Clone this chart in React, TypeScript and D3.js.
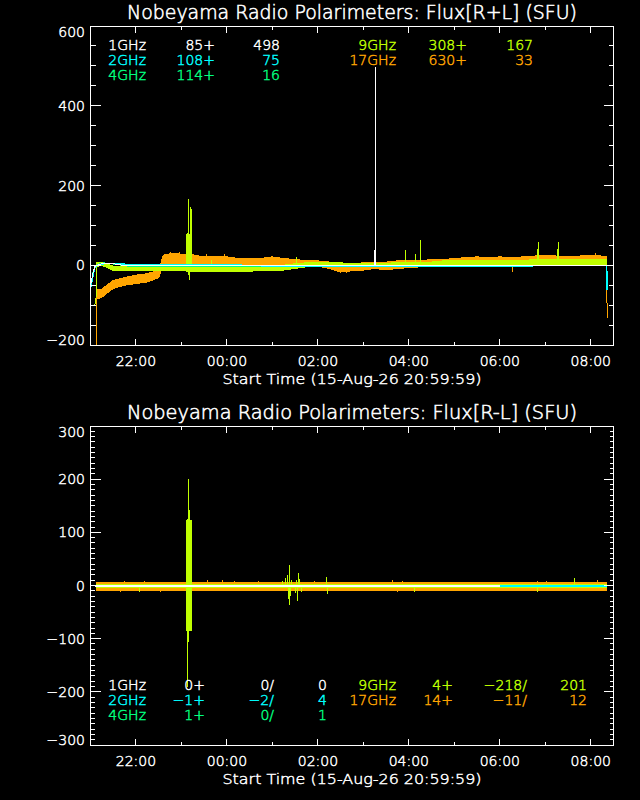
import React from "react";
import * as d3 from "d3";

type Pt = [number, number];

// ---------- time frame ----------
const START = new Date(2026, 7, 15, 20, 59, 59);
const END = new Date(2026, 7, 16, 8, 29, 59);

// ---------- colours ----------
const C1 = "#ffffff";
const C2 = "#00ffff";
const C4 = "#00ff80";
const C9 = "#c0ff00";
const C17 = "#ffa500";

// ---------- common sample grid (hours after start) ----------
const gridH = [0.13, 0.25, 0.5, 0.75, 1.0, 1.25, 1.5, 1.6, 1.75, 2.0, 2.25, 2.5, 2.75, 3.0, 3.25, 3.5, 3.75, 4.0, 4.25, 4.5, 4.75, 5.0, 5.25, 5.5, 5.75, 6.0, 6.25, 6.5, 6.75, 7.0, 7.25, 7.5, 7.75, 8.0, 8.25, 8.5, 8.75, 9.0, 9.25, 9.5, 9.75, 10.0, 10.25, 10.5, 10.75, 11.0, 11.25, 11.35];

// ---------- R+L (top) ----------
const rl17Lo = [-85, -80, -58, -50, -46, -42, -31, 0, 3, 0, 0, 0, 0, -1, -2, -2, 0, 0, 0, 0, 0, -2, -8, -17, -14, -12, -8, -12, -8, -6, -4, 0, 0, 2, 4, 4, 4, 4, 2, 4, 4, 4, 4, 4, 4, 6, 4, 4];
const rl17Hi = [-62, -60, -38, -31, -25, -21, -13, 25, 29, 28, 26, 21, 22, 21, 17, 17, 17, 21, 17, 14, 12, 11, 8, 4, 4, 6, 8, 8, 11, 11, 12, 14, 14, 17, 19, 21, 19, 21, 19, 21, 23, 25, 23, 21, 23, 25, 23, 23];
const rl17Lead: Pt[] = [[0.125, -420], [0.13, -75]];
const rl17Tail: Pt[] = [[11.35, 10], [11.36, -132]];
const rl17Spikes: Pt[] = [[1.75, 33], [1.95, 33], [2.55, 28], [2.95, 28], [5.63, -20], [9.29, -16], [11.1, 30]];

const rl9Lo = [-4, 0, -13, -13, -13, -13, -14, -14, -14, -14, -15, -15, -15, -15, -15, -15, -13, -13, -12, -8, -4, -4, -4, -4, -4, -4, -4, -4, -2, -2, -2, -2, 0, 0, 0, 0, 0, 0, 0, 0, 2, 2, 2, 2, 2, 2, 2, 2];
const rl9Hi = [6, 8, -2, -2, -2, -2, -4, -4, -4, -4, -3, -3, -3, -3, -3, -3, -3, -3, 0, 4, 6, 6, 6, 6, 4, 4, 4, 4, 8, 8, 8, 8, 11, 11, 11, 11, 12, 12, 12, 12, 14, 14, 14, 14, 14, 14, 14, 14];
const rl9Lead: Pt[] = [[0.083, -100], [0.12, -95], [0.125, -40], [0.132, -40], [0.136, 2]];
const rl9Spikes: Pt[] = [[2.11, 78], [2.12, 78], [2.13, 80], [2.14, 78], [2.15, 165], [2.16, 78], [2.17, 76], [2.18, 78], [2.19, 146], [2.2, 78], [2.21, 140], [2.22, 60], [2.23, 20], [2.15, -25], [2.17, -38], [2.66, 14], [4.52, 21], [6.92, 37], [7.14, 27], [7.25, 63], [9.83, 40], [9.84, 58], [10.27, 40], [10.28, 58]];

const rl4Line: Pt[] = [[0.05, -20], [0.1, -5], [0.15, 2], [0.3, 6], [0.5, 3], [0.8, -2], [1.5, -3], [3.0, -3], [5.0, -2], [7.0, -1], [9.0, 0], [11.35, 0]];
const rl2Line: Pt[] = [[0.0, -58], [0.03, -40], [0.07, -18], [0.1, -5], [0.15, 0], [0.25, 3], [0.4, 5], [0.6, 4], [0.8, 2], [1.2, 2], [2.0, 2], [3.0, 1], [4.0, -2], [5.0, -3], [6.0, -3], [7.0, -3], [8.0, -3], [9.0, -2], [10.0, -1], [11.0, -1], [11.35, -1], [11.36, -63]];
const rl1Line: Pt[] = [[0.0, -50], [0.03, -33], [0.07, -13], [0.1, -3], [0.15, 0], [0.25, 4], [0.4, 5], [0.55, 3], [0.7, 0], [1.0, -1], [3.5, -1], [6.2, -1], [9.0, -1], [11.35, -1]];
const rl1Spikes: Pt[] = [[6.24, 38], [6.26, 498], [6.27, 159]];

// ---------- R-L (bottom) ----------
const lr17Lo = [-10, -9, -9, -9, -10, -9, -9, -9, -9, -9, -9, -9, -9, -9, -9, -9, -9, -9, -9, -9, -9, -9, -9, -9, -9, -9, -9, -9, -9, -9, -9, -9, -9, -9, -9, -9, -9, -9, -9, -9, -9, -9, -9, -9, -9, -9, -9, -9];
const lr17Hi = [5, 5, 5, 6, 5, 5, 5, 5, 5, 5, 5, 6, 5, 5, 5, 5, 5, 5, 5, 5, 5, 5, 5, 5, 5, 5, 5, 6, 5, 5, 5, 5, 5, 5, 5, 5, 6, 5, 5, 5, 5, 5, 5, 5, 5, 6, 5, 5];
const lr17Spikes: Pt[] = [[0.65, -13], [0.75, 9], [1.19, 9], [1.55, -12], [2.57, 10], [2.9, 10], [3.16, 9], [3.49, -11], [3.69, 9], [4.93, 9], [6.63, 10], [6.74, -13], [6.85, 9], [8.3, -11], [9.83, 9], [10.03, 9], [10.32, -10], [11.14, 11]];

const lr9Lo = [-3, -3, -3, -3, -3, -3, -3, -3, -3, -3, -3, -3, -3, -3, -3, -3, -3, -3, -3, -3, -3, -3, -3, -3, -3, -3, -3, -3, -3, -3, -3, -3, -3, -3, -3, -3, -3, -3, -3, -3, -3, -3, -3, -3, -3, -3, -3, -3];
const lr9Hi = [2, 2, 2, 2, 2, 2, 2, 2, 2, 2, 2, 2, 2, 2, 2, 2, 2, 2, 2, 2, 2, 2, 2, 2, 2, 2, 2, 2, 2, 2, 2, 2, 2, 2, 2, 2, 2, 2, 2, 2, 2, 2, 2, 2, 2, 2, 2, 2];
const lr9Spikes: Pt[] = [[1.07, -13], [2.11, 123], [2.12, 123], [2.13, 123], [2.14, 125], [2.15, 142], [2.16, 200], [2.17, 142], [2.18, 123], [2.19, 123], [2.2, 123], [2.21, 123], [2.22, 27], [2.23, 27], [2.11, -86], [2.12, -86], [2.13, -86], [2.14, -190], [2.15, -107], [2.16, -107], [2.17, -86], [2.18, -86], [2.19, -86], [2.2, -86], [2.21, -86], [4.22, 8], [4.28, 15], [4.33, 20], [4.35, -25], [4.37, 38], [4.38, -37], [4.4, -20], [4.42, 10], [4.5, -15], [4.53, 10], [4.55, -30], [4.57, 23], [4.6, 12], [4.63, -12], [5.2, 16], [5.21, -16], [7.13, -13], [9.82, -13], [10.65, 15]];
const lr4Line: Pt[] = [[0.1, 0], [11.35, 0]];
const lr2Line: Pt[] = [[0.1, 0], [11.35, 0]];
const lr1Line: Pt[] = [[0.1, 0], [9.0, 0]];

// ---------- legend text ----------
const freqLabels = ["1GHz", "2GHz", "4GHz", "9GHz", "17GHz"];
const freqColors = [C1, C2, C4, C9, C17];
const topBase = ["85+", "108+", "114+", "308+", "630+"];
const topMax = ["498", "75", "16", "167", "33"];
const botBase = ["0+", "\u22121+", "1+", "4+", "14+"];
const botMin = ["0/", "\u22122/", "0/", "\u2212218/", "\u221211/"];
const botMax = ["0", "4", "1", "201", "12"];

const titleTop = "Nobeyama Radio Polarimeters: Flux[R+L] (SFU)";
const titleBot = "Nobeyama Radio Polarimeters: Flux[R-L] (SFU)";
const xTitle = "Start Time (15-Aug-26 20:59:59)";

// ---------- scales ----------
const LEFT = 90.5;
const RIGHT = 613.5;
const x = d3.scaleTime().domain([START, END]).range([LEFT, RIGHT]);
const hx = (h: number) => x(new Date(START.getTime() + h * 3600000));
const fmtTime = d3.timeFormat("%H:%M");
const fmtNum = (v: number) => (v < 0 ? "\u2212" + Math.abs(v) : String(v));

type Layer = {
  color: string;
  band?: { lo: number[]; hi: number[] };
  lines?: Pt[][];
  spikes?: Pt[];
  width?: number;
};

type PanelProps = {
  id: string;
  top: number;
  bottom: number;
  yDomain: [number, number];
  major: number;
  minor: number;
  minorLen: number;
  title: string;
  layers: Layer[];
};

function Panel({ id, top, bottom, yDomain, major, minor, minorLen, title, layers }: PanelProps) {
  const y = d3.scaleLinear().domain(yDomain).range([bottom, top]);
  const nMaj = Math.round((yDomain[1] - yDomain[0]) / major);
  const yMajor = d3.range(nMaj + 1).map((i) => yDomain[0] + i * major);
  const nMin = Math.round((yDomain[1] - yDomain[0]) / minor);
  const yMinor = d3
    .range(nMin + 1)
    .map((i) => yDomain[0] + i * minor)
    .filter((v) => Math.abs((v - yDomain[0]) % major) > 1e-6);
  const xAll = d3.timeHour.range(START, END);
  const xMajor = xAll.filter((d) => d.getHours() % 2 === 0);
  const xMinor = xAll.filter((d) => d.getHours() % 2 === 1);
  const cx = (LEFT + RIGHT) / 2;
  const px = (v: number) => Math.floor(v) + 0.5;

  const area = (lo: number[], hi: number[]) =>
    d3
      .area<number>()
      .x((h) => hx(h))
      .y0((_, i) => y(lo[i]))
      .y1((_, i) => y(hi[i]))(gridH) || "";
  const line = d3
    .line<Pt>()
    .x((d) => hx(d[0]))
    .y((d) => y(d[1]));

  return (
    <g>
      <defs>
        <clipPath id={id}>
          <rect x={LEFT} y={top} width={RIGHT - LEFT} height={bottom - top} />
        </clipPath>
      </defs>
      <g clipPath={`url(#${id})`}>
        {layers.map((L, li) => (
          <g key={li} stroke={L.color} fill="none" strokeWidth={L.width ?? 1}>
            {L.band && <path d={area(L.band.lo, L.band.hi)} fill={L.color} strokeWidth={1} />}
            {L.lines?.map((pts, k) => <path key={k} d={line(pts) || ""} />)}
            {L.spikes?.map((s, k) => (
              <line key={k} x1={px(hx(s[0]))} x2={px(hx(s[0]))} y1={y(0)} y2={y(s[1])} strokeWidth={1} />
            ))}
          </g>
        ))}
      </g>
      {/* frame */}
      <rect x={LEFT} y={top + 0.5} width={RIGHT - LEFT} height={bottom - top} fill="none" stroke="#fff" strokeWidth={1} />
      {/* ticks */}
      <g stroke="#fff" strokeWidth={1}>
        {yMajor.map((v) => (
          <g key={"M" + v}>
            <line x1={LEFT} x2={LEFT + 10} y1={px(y(v))} y2={px(y(v))} />
            <line x1={RIGHT} x2={RIGHT - 10} y1={px(y(v))} y2={px(y(v))} />
          </g>
        ))}
        {yMinor.map((v) => (
          <g key={"m" + v}>
            <line x1={LEFT} x2={LEFT + minorLen} y1={px(y(v))} y2={px(y(v))} />
            <line x1={RIGHT} x2={RIGHT - minorLen} y1={px(y(v))} y2={px(y(v))} />
          </g>
        ))}
        {xMajor.map((d) => (
          <g key={"X" + d.getTime()}>
            <line x1={px(x(d))} x2={px(x(d))} y1={bottom + 0.5} y2={bottom - 6} />
            <line x1={px(x(d))} x2={px(x(d))} y1={top + 0.5} y2={top + 7} />
          </g>
        ))}
        {xMinor.map((d) => (
          <g key={"x" + d.getTime()}>
            <line x1={px(x(d))} x2={px(x(d))} y1={bottom + 0.5} y2={bottom - 3} />
            <line x1={px(x(d))} x2={px(x(d))} y1={top + 0.5} y2={top + 4} />
          </g>
        ))}
      </g>
      <g fill="#fff" stroke="#fff" strokeWidth={0.45} fontSize={14}>
        {yMajor.map((v) => (
          <text key={"t" + v} x={85} y={Math.min(Math.max(y(v), top + 5.5), bottom - 5)} dy="0.36em" textAnchor="end">
            {fmtNum(v)}
          </text>
        ))}
        {xMajor.map((d) => (
          <text key={"tx" + d.getTime()} x={x(d)} y={bottom + 21} textAnchor="middle">
            {fmtTime(d)}
          </text>
        ))}
        <text x={cx} y={bottom + 39} textAnchor="middle" textLength={259} lengthAdjust="spacingAndGlyphs">
          {xTitle}
        </text>
        <text x={cx} y={top - 7.5} textAnchor="middle" fontSize={19} strokeWidth={0.55} textLength={450} lengthAdjust="spacingAndGlyphs">
          {title}
        </text>
      </g>
    </g>
  );
}

function Legend({ cols, rows, baseY }: { cols: string[][]; rows: number[][]; baseY: number }) {
  return (
    <g fontSize={14} strokeWidth={0.45}>
      {freqLabels.map((lab, i) => {
        const grp = i < 3 ? rows[0] : rows[1];
        const row = i < 3 ? i : i - 3;
        const yy = baseY + row * 15;
        const items = [lab, ...cols.map((c) => c[i])];
        return items.map((s, k) => (
          <text key={i + "-" + k} x={grp[k]} y={yy} fill={freqColors[i]} stroke={freqColors[i]} textAnchor="end">
            {s}
          </text>
        ));
      })}
    </g>
  );
}

export default function App() {
  const topLayers: Layer[] = [
    { color: C17, band: { lo: rl17Lo, hi: rl17Hi }, lines: [rl17Lead, rl17Tail], spikes: rl17Spikes },
    { color: C9, band: { lo: rl9Lo, hi: rl9Hi }, lines: [rl9Lead], spikes: rl9Spikes },
    { color: C4, lines: [rl4Line] },
    { color: C2, lines: [rl2Line], width: 1.5 },
    { color: C1, lines: [rl1Line], spikes: rl1Spikes },
  ];
  const botLayers: Layer[] = [
    { color: C17, band: { lo: lr17Lo, hi: lr17Hi }, spikes: lr17Spikes },
    { color: C9, band: { lo: lr9Lo, hi: lr9Hi }, spikes: lr9Spikes },
    { color: C4, lines: [lr4Line] },
    { color: C2, lines: [lr2Line], width: 2 },
    { color: C1, lines: [lr1Line], width: 2 },
  ];
  return (
    <svg
      width={640}
      height={800}
      style={{ position: "absolute", left: 0, top: 0, background: "#000" }}
      shapeRendering="crispEdges"
      fontFamily="'DejaVu Sans', sans-serif"
      fontWeight={200}
    >
      <rect width={640} height={800} fill="#000" />
      <Panel id="clipTop" top={26} bottom={345} yDomain={[-200, 600]} major={200} minor={50} minorLen={5} title={titleTop} layers={topLayers} />
      <Panel id="clipBot" top={426} bottom={745} yDomain={[-300, 300]} major={100} minor={10} minorLen={4} title={titleBot} layers={botLayers} />
      <Legend cols={[topBase, topMax]} rows={[[146, 215, 280], [396, 467, 533]]} baseY={50} />
      <Legend cols={[botBase, botMin, botMax]} rows={[[146, 205, 274, 327], [396, 453, 527, 587]]} baseY={690} />
    </svg>
  );
}
